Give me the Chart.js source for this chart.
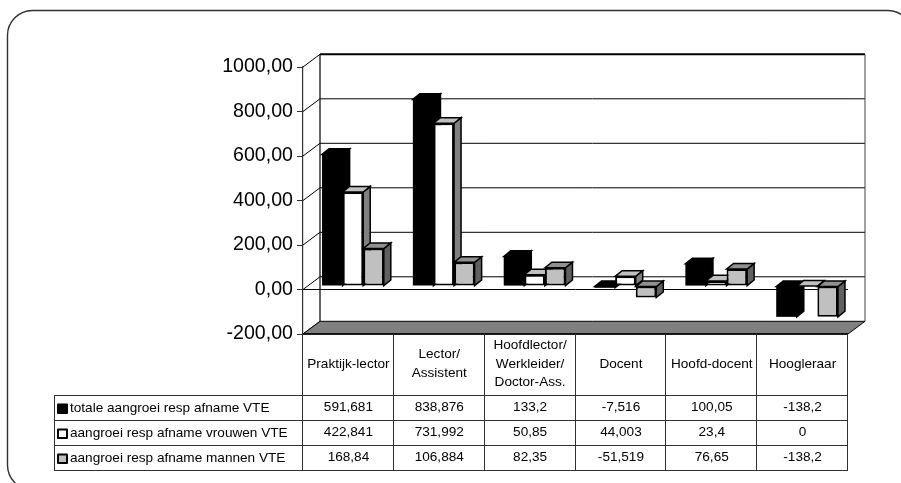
<!DOCTYPE html>
<html>
<head>
<meta charset="utf-8">
<style>
  html, body { margin: 0; padding: 0; background: #fff; overflow: hidden; }
  canvas { display: block; }
</style>
<script src="https://cdn.jsdelivr.net/npm/chart.js@4"></script>
</head>
<body>
<canvas id="chart" width="901" height="483"></canvas>
<script>
const categories = [
    ['Praktijk-lector'],
    ['Lector/', 'Assistent'],
    ['Hoofdlector/', 'Werkleider/', 'Doctor-Ass.'],
    ['Docent'],
    ['Hoofd-docent'],
    ['Hoogleraar']
];
const seriesNames = [
    'totale aangroei resp afname VTE',
    'aangroei resp afname vrouwen VTE',
    'aangroei resp afname mannen VTE'
];
const totalValues = [591.681, 838.876, 133.2, -7.516, 100.05, -138.2];
const womenValues = [422.841, 731.992, 50.85, 44.003, 23.4, 0];
const menValues = [168.84, 106.884, 82.35, -51.519, 76.65, -138.2];
const allValues = [totalValues, womenValues, menValues];

const frontColors = ['#000000', '#ffffff', '#c0c0c0'];
const topColors = ['#000000', '#c0c0c0', '#909090'];
const sideColors = ['#000000', '#808080', '#606060'];
// the black series gets no border, an outline on black only leaves a pale seam
const barBorders = [0, 2, 2];

const FONT = '"Liberation Sans", Arial, sans-serif';
// depth of the whole plot box, and where the bars sit inside it
const WALL_DX = 17, WALL_DY = 12.7;
const BAR_SHIFT_X = 4.5, BAR_SHIFT_Y = 3.4;
const BAR_DX = 7, BAR_DY = 5.6;

const rowLines = [395, 420, 445, 470];
const tableLeft = 54;

function poly(ctx, pts, fill, stroke, lw) {
    ctx.beginPath();
    pts.forEach((p, i) => i ? ctx.lineTo(p[0], p[1]) : ctx.moveTo(p[0], p[1]));
    ctx.closePath();
    if (fill) { ctx.fillStyle = fill; ctx.fill(); }
    if (stroke) { ctx.strokeStyle = stroke; ctx.lineWidth = lw; ctx.stroke(); }
}

function line(ctx, x1, y1, x2, y2, color, lw) {
    ctx.beginPath();
    ctx.moveTo(x1, y1);
    ctx.lineTo(x2, y2);
    ctx.strokeStyle = color;
    ctx.lineWidth = lw;
    ctx.stroke();
}

const box3d = {
    id: 'box3d',
    beforeDatasetsDraw(chart) {
        const ctx = chart.ctx;
        const { left, right } = chart.chartArea;
        const y = chart.scales.y;
        ctx.save();

        // frame around the whole thing, runs off the page right and bottom
        ctx.beginPath();
        ctx.roundRect(7.5, 10.5, 905, 479.5, 25);
        ctx.strokeStyle = '#303030';
        ctx.lineWidth = 1.4;
        ctx.stroke();

        // back wall gridlines and left wall diagonals
        y.ticks.forEach(t => {
            const py = y.getPixelForValue(t.value);
            line(ctx, left, py, left + WALL_DX, py - WALL_DY, '#000', 1);
            if (t.value > y.min) {
                const isTop = t.value === y.max;
                line(ctx, left + WALL_DX, py - WALL_DY, right + WALL_DX, py - WALL_DY, '#000', isTop ? 2 : 1);
            }
        });
        const wallTop = y.getPixelForValue(y.max) - WALL_DY;
        const wallBottom = y.getPixelForValue(y.min) - WALL_DY;
        line(ctx, left + WALL_DX, wallTop, left + WALL_DX, wallBottom, '#000', 1.2);
        line(ctx, right + WALL_DX, wallTop, right + WALL_DX, wallBottom, '#404040', 1);

        // floor
        const base = y.getPixelForValue(y.min);
        poly(ctx, [[left, base], [left + WALL_DX, wallBottom], [right + WALL_DX, wallBottom], [right, base]],
            '#808080', '#000', 1);

        // zero line on the front plane
        const zero = y.getPixelForValue(0);
        line(ctx, left, zero, right, zero, '#000', 1);
        ctx.restore();
    },
    // chart.js paints the first dataset last, here the left bar has to go first
    beforeDatasetDraw() {
        return false;
    },
    afterDatasetsDraw(chart) {
        const ctx = chart.ctx;
        allValues.forEach((values, i) => {
            const meta = chart.getDatasetMeta(i);
            ctx.save();
            ctx.translate(BAR_SHIFT_X, -BAR_SHIFT_Y);
            meta.data.forEach(el => {
                const p = el.getProps(['x', 'y', 'base', 'width'], true);
                const l = p.x - p.width / 2, r = p.x + p.width / 2;
                const top = Math.min(p.y, p.base), bottom = Math.max(p.y, p.base);
                poly(ctx, [[r, top], [r + BAR_DX, top - BAR_DY], [r + BAR_DX, bottom - BAR_DY], [r, bottom]],
                    sideColors[i], '#000', 1.5);
                poly(ctx, [[l, top], [l + BAR_DX, top - BAR_DY], [r + BAR_DX, top - BAR_DY], [r, top]],
                    topColors[i], '#000', 1.5);
            });
            meta.controller.draw();
            ctx.restore();
        });
    },
    afterDraw(chart) {
        const ctx = chart.ctx;
        const x = chart.scales.x;
        const { left, right, bottom } = chart.chartArea;
        const colW = (right - left) / categories.length;
        ctx.save();

        // table grid
        rowLines.forEach(py => line(ctx, tableLeft, py + 0.5, right, py + 0.5, '#303030', 1));
        line(ctx, tableLeft + 0.5, rowLines[0], tableLeft + 0.5, rowLines[3] + 1, '#303030', 1);
        line(ctx, left, bottom, right, bottom, '#000', 1.6);
        for (let c = 0; c <= categories.length; c++) {
            const px = Math.round(left + c * colW) - 0.5;
            line(ctx, px, bottom, px, rowLines[3] + 1, '#303030', 1);
        }

        ctx.fillStyle = '#000';
        ctx.textBaseline = 'middle';

        // category names
        ctx.font = '13.6px ' + FONT;
        ctx.textAlign = 'center';
        categories.forEach((lines, c) => {
            const cx = x.getPixelForValue(c);
            const startY = 364 - (lines.length - 1) * 9.3;
            lines.forEach((txt, n) => ctx.fillText(txt, cx, startY + n * 18.6));
        });

        // rows: key, name, values
        ctx.lineJoin = 'round';
        seriesNames.forEach((name, s) => {
            const midY = rowLines[s] + 13;
            poly(ctx, [[58, midY - 3.5], [67, midY - 3.5], [67, midY + 5], [58, midY + 5]],
                frontColors[s], '#000', 2);
            ctx.fillStyle = '#000';
            ctx.textAlign = 'left';
            ctx.fillText(name, 70, midY);
            ctx.textAlign = 'center';
            allValues[s].forEach((v, c) => {
                ctx.fillText(String(v).replace('.', ','), x.getPixelForValue(c), midY - 1);
            });
        });
        ctx.restore();
    }
};

new Chart(document.getElementById('chart'), {
    type: 'bar',
    data: {
        labels: categories,
        datasets: allValues.map((values, i) => ({
            label: seriesNames[i],
            data: values,
            backgroundColor: frontColors[i],
            borderColor: '#000',
            borderWidth: barBorders[i],
            borderSkipped: false,
            barPercentage: 1,
            categoryPercentage: 0.68
        }))
    },
    options: {
        responsive: false,
        animation: false,
        layout: { padding: { left: 0, right: 53, top: 67, bottom: 149 } },
        plugins: { legend: { display: false }, tooltip: { enabled: false } },
        scales: {
            x: {
                display: false
            },
            y: {
                min: -200,
                max: 1000,
                afterFit: scale => { scale.width = 303; },
                grid: { drawOnChartArea: false, tickLength: 6, tickColor: '#303030', tickWidth: 1 },
                border: { color: '#303030', width: 1.2 },
                ticks: {
                    stepSize: 200,
                    padding: 4,
                    color: '#000',
                    font: { family: FONT, size: 19.6 },
                    callback: v => v.toFixed(2).replace('.', ',')
                }
            }
        }
    },
    plugins: [box3d]
});
</script>
</body>
</html>
